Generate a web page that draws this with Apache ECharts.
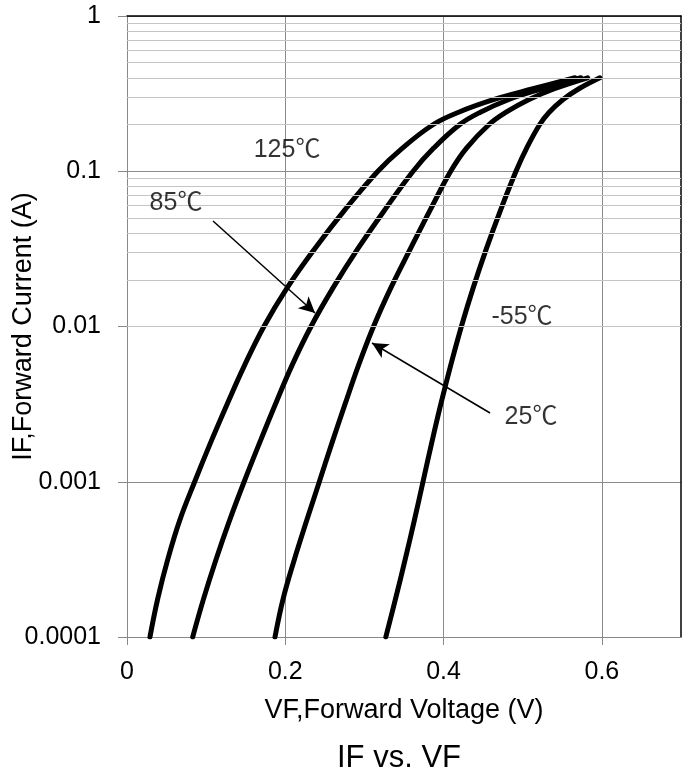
<!DOCTYPE html>
<html>
<head>
<meta charset="utf-8">
<script src="https://cdn.jsdelivr.net/npm/echarts@6/dist/echarts.min.js"></script>
<style>
html,body{margin:0;padding:0;background:#fff;}
#chart{width:693px;height:776px;}
</style>
</head>
<body>
<div id="chart"></div>
<script>
// ---- data ----
const seriesNames = ['125℃', '85℃', '25℃', '-55℃'];
// forward current levels shared by all curves (A)
const ifLevels = [1e-4, 1.78e-4, 3.16e-4, 5.62e-4, 1e-3, 1.78e-3, 3.16e-3, 5.62e-3, 1e-2, 1.78e-2, 3.16e-2, 5.62e-2,
  0.1, 0.141, 0.2, 0.24, 0.29, 0.34, 0.4];
const vf125 = [0.029, 0.039, 0.0515, 0.0665, 0.0855, 0.1055, 0.1265, 0.1485, 0.173, 0.2025, 0.237, 0.275,
  0.317, 0.348, 0.387, 0.419, 0.464, 0.513, 0.566];
const vf85 = [0.083, 0.097, 0.1125, 0.1295, 0.148, 0.1675, 0.1875, 0.2085, 0.2325, 0.2605, 0.2915, 0.3255,
  0.3615, 0.3875, 0.4205, 0.4465, 0.4825, 0.5245, 0.5735];
const vf25 = [0.187, 0.1975, 0.2115, 0.227, 0.243, 0.259, 0.2755, 0.2925, 0.3115, 0.3335, 0.358, 0.383,
  0.409, 0.429, 0.4575, 0.479, 0.508, 0.540, 0.582];
const vfm55 = [0.327, 0.3395, 0.3515, 0.363, 0.374, 0.385, 0.3965, 0.409, 0.4225, 0.4375, 0.454, 0.472,
  0.4915, 0.505, 0.5215, 0.5335, 0.551, 0.571, 0.5975];

const xTickValues = [0, 0.2, 0.4, 0.6];
const xTickLabels = ['0', '0.2', '0.4', '0.6'];
const yTickLabels = ['0.0001', '0.001', '0.01', '0.1', '1'];
const minorGridValues = [2e-4,3e-4,4e-4,5e-4,6e-4,7e-4,8e-4,9e-4,
  2e-3,3e-3,4e-3,5e-3,6e-3,7e-3,8e-3,9e-3,
  2e-2,3e-2,4e-2,5e-2,6e-2,7e-2,8e-2,9e-2,
  0.2,0.3,0.4,0.5,0.6,0.7,0.8,0.9];

// annotation labels
const labelTexts = ['125℃', '85℃', '-55℃', '25℃'];
const labelVF = [0.2022, 0.0619, 0.4991, 0.5105];
const labelIF = [0.137, 0.0624, 0.0115, 0.00261];
// arrows: from (vf,if) to (vf,if)
const arrowFromVF = [0.1087, 0.4587];
const arrowFromIF = [0.0478, 0.002773];
const arrowToVF = [0.2376, 0.3096];
const arrowToIF = [0.01222, 0.00783];

const FONT = '"Liberation Sans", Arial, "Noto Sans CJK SC", sans-serif';
const curves = [vf125, vf85, vf25, vfm55].map(vs => vs.map((v, i) => [v, ifLevels[i]]));

const chart = echarts.init(document.getElementById('chart'), null, {renderer: 'canvas'});

const series = [];
// minor horizontal grid lines
series.push({
  type: 'line', data: [], silent: true, z: 1,
  markLine: {
    silent: true, symbol: 'none', animation: false,
    label: {show: false},
    lineStyle: {color: '#c4c4c4', width: 1, type: 'solid'},
    data: minorGridValues.map(v => ({yAxis: v}))
  }
});
curves.forEach((d, i) => {
  series.push({
    name: seriesNames[i], type: 'line', data: d, z: 4,
    smooth: 0.4, showSymbol: false, symbol: 'none',
    lineStyle: {color: '#000', width: 5, cap: 'round', join: 'round'},
    animation: false
  });
});
// annotation texts
series.push({
  type: 'scatter', z: 6, silent: true, animation: false,
  symbolSize: 1, itemStyle: {color: 'rgba(0,0,0,0)'},
  data: labelTexts.map((t, i) => ({value: [labelVF[i], labelIF[i]], name: t})),
  label: {show: true, position: 'inside', formatter: p => p.name, color: '#000', fontSize: 25, fontFamily: FONT}
});
// arrows
series.push({
  type: 'line', data: [], z: 5, silent: true,
  markLine: {
    silent: true, animation: false,
    label: {show: false},
    symbolSize: [12, 16],
    lineStyle: {color: '#000', width: 1.5, type: 'solid'},
    data: arrowFromVF.map((v, i) => [
      {coord: [v, arrowFromIF[i]], symbol: 'none'},
      {coord: [arrowToVF[i], arrowToIF[i]], symbol: 'arrow'}
    ])
  }
});

chart.setOption({
  animation: false,
  backgroundColor: '#fff',
  title: {
    text: 'IF vs. VF', left: 394, textAlign: 'center', top: 738,
    textStyle: {fontFamily: FONT, fontSize: 31, fontWeight: 'normal', color: '#000'}
  },
  grid: {left: 127, top: 16, right: 12, bottom: 139, containLabel: false, outerBoundsMode: 'none'},
  xAxis: [{
    type: 'value', min: 0, max: 0.7, interval: 0.2,
    name: 'VF,Forward Voltage (V)', nameLocation: 'middle', nameGap: 60, nameMoveOverlap: false,
    nameTextStyle: {fontFamily: FONT, fontSize: 27, color: '#000'},
    axisLine: {show: true, lineStyle: {color: '#888', width: 1}},
    axisTick: {show: true, length: 8, customValues: xTickValues, lineStyle: {color: '#888'}},
    axisLabel: {
      fontFamily: FONT, fontSize: 25, color: '#000', margin: 23,
      customValues: xTickValues,
      formatter: v => { const i = xTickValues.findIndex(t => Math.abs(t - v) < 1e-9); return i >= 0 ? xTickLabels[i] : ''; }
    },
    splitLine: {show: true, lineStyle: {color: '#8c8c8c', width: 1}}
  }, {
    type: 'value', min: 0, max: 0.7, position: 'top',
    axisLine: {show: true, onZero: false, lineStyle: {color: '#000', width: 1.5}},
    axisTick: {show: false}, axisLabel: {show: false}, splitLine: {show: false}
  }],
  yAxis: [{
    type: 'log', logBase: 10, min: 0.0001, max: 1,
    name: 'IF,Forward Current (A)', nameLocation: 'middle', nameGap: 90, nameMoveOverlap: false,
    nameTextStyle: {fontFamily: FONT, fontSize: 27, color: '#000'},
    axisLine: {show: true, lineStyle: {color: '#888', width: 1}},
    axisTick: {show: true, length: 9, lineStyle: {color: '#888'}},
    axisLabel: {
      fontFamily: FONT, fontSize: 25, color: '#000', margin: 26,
      formatter: v => { const i = Math.round(Math.log10(v)) + 4; return yTickLabels[i] !== undefined ? yTickLabels[i] : ''; }
    },
    splitLine: {show: true, lineStyle: {color: '#8c8c8c', width: 1}}
  }, {
    type: 'log', logBase: 10, min: 0.0001, max: 1, position: 'right',
    axisLine: {show: true, onZero: false, lineStyle: {color: '#000', width: 1.5}},
    axisTick: {show: false}, axisLabel: {show: false}, splitLine: {show: false}
  }],
  series: series
});
</script>
</body>
</html>
